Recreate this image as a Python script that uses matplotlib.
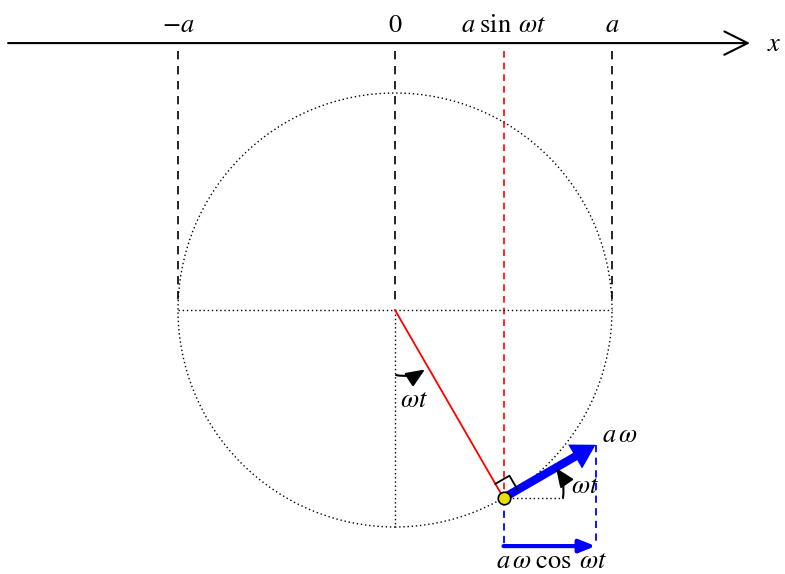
import numpy as np
import matplotlib
matplotlib.use("Agg")
import matplotlib.pyplot as plt
from matplotlib.patches import FancyArrowPatch, Circle

# values (radius a = 1)
a = 1.0
theta_deg = 30.0          # omega t
v_len = 0.49              # length drawn for a*omega
tick_pos = [-a, 0.0, a]
tick_labels = [r'$-a$', r'$0$', r'$a$']
axis_y = 1.23

plt.rcParams['mathtext.fontset'] = 'stix'
plt.rcParams['font.family'] = ['Liberation Serif', 'DejaVu Serif']
FS = 19

fig = plt.figure(figsize=(7.85, 5.74), dpi=100)
ax = fig.add_axes([0, 0, 1, 1])
ax.set_xlim(-395 / 217, 390 / 217)
ax.set_ylim(-264 / 217, 310 / 217)
ax.set_aspect('equal')
ax.axis('off')

th = np.radians(theta_deg)
px, py = a * np.sin(th), -a * np.cos(th)
tx, ty = np.cos(th), np.sin(th)
ex, ey = px + v_len * tx, py + v_len * ty

# x axis
ax.add_patch(FancyArrowPatch((-1.783, axis_y), (1.636, axis_y), arrowstyle='->,head_length=1.2,head_width=0.6',
                             mutation_scale=14, lw=1.5, color='black', shrinkA=0, shrinkB=0))
ax.text(1.75, 1.195, r'$x$', fontsize=FS, ha='center', va='baseline')

for xv, lab in zip(tick_pos, tick_labels):
    ax.plot([xv, xv], [axis_y - 0.035, 0.03], ls=(0, (5, 4)), color='black', lw=1.2)
    ax.text(xv, 1.283, lab, fontsize=FS, ha='center', va='baseline')

# red projection
ax.plot([px, px], [axis_y - 0.035, py], ls=(0, (4, 3)), color='red', lw=1.2)
ax.text(px, 1.283, r'$a\;\sin\;\omega t$', fontsize=FS, ha='center', va='baseline')

# dotted circle and diameters
ax.add_patch(Circle((0, 0), a, fill=False, ls=(0, (1, 2)), lw=1.0, color='black'))
ax.plot([-a, a], [0, 0], ls=(0, (1, 2)), lw=1.0, color='black')
ax.plot([0, 0], [0, -a], ls=(0, (1, 2)), lw=1.0, color='black')

# radius
ax.plot([0, px], [0, py], color='red', lw=1.3)

# angle arrow at centre
ax.add_patch(FancyArrowPatch((0.005, -0.300), (0.138, -0.274), connectionstyle='arc3,rad=0.2',
                             arrowstyle='-|>,head_length=0.95,head_width=0.4', mutation_scale=12,
                             lw=1.5, color='black', shrinkA=0, shrinkB=0))
ax.text(0.088, -0.447, r'$\omega t$', fontsize=FS, ha='center', va='baseline')

# right angle marker
s = 0.075
rx, ry = -np.sin(th), np.cos(th)
sq = np.array([[px + s * rx, py + s * ry],
               [px + s * rx + s * tx, py + s * ry + s * ty],
               [px + s * tx, py + s * ty]])
ax.plot(sq[:, 0], sq[:, 1], color='black', lw=1.3)

# dotted horizontal from point
ax.plot([px, 0.775], [py, py], ls=(0, (1, 2)), lw=1.0, color='black')

# velocity arrow
ax.add_patch(FancyArrowPatch((px, py), (ex, ey),
                             arrowstyle='simple,tail_width=0.3,head_width=1.0,head_length=0.85',
                             mutation_scale=20, color='blue', lw=0, shrinkA=0, shrinkB=0))
ax.text(1.037, -0.608, r'$a\,\omega$', fontsize=FS, ha='center', va='baseline')

# small angle arrow at the point
ax.add_patch(FancyArrowPatch((0.774, -0.866), (0.742, -0.728), connectionstyle='arc3,rad=0.2',
                             arrowstyle='-|>,head_length=0.95,head_width=0.4', mutation_scale=12,
                             lw=1.5, color='black', shrinkA=0, shrinkB=0))
ax.text(0.876, -0.843, r'$\omega t$', fontsize=FS, ha='center', va='baseline')

# horizontal component
yb = -1.088
ax.plot([px, px], [py, yb], ls=(0, (4, 3)), color='blue', lw=1.3)
ax.plot([ex, ex], [ey, yb], ls=(0, (4, 3)), color='blue', lw=1.3)
ax.add_patch(FancyArrowPatch((px, yb), (ex, yb), arrowstyle='-|>,head_length=0.8,head_width=0.32',
                             mutation_scale=12, lw=3, color='blue', shrinkA=0, shrinkB=0))
ax.text(0.724, -1.189, r'$a\,\omega\;\cos\;\omega t$', fontsize=FS, ha='center', va='baseline')

# moving point
ax.plot(px, py, 'o', ms=9, mfc='#e8e000', mec='black', mew=1.2, zorder=5)

fig.savefig('out.png', dpi=100)
